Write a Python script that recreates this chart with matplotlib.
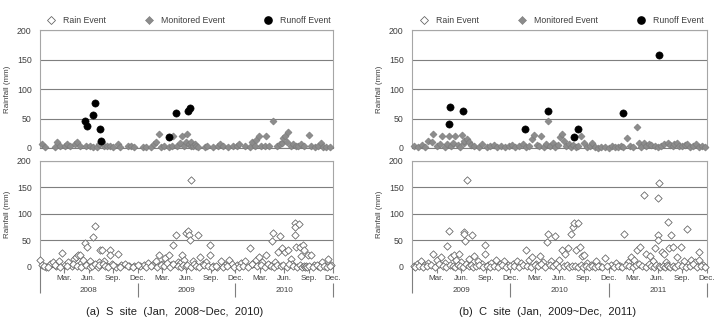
import matplotlib.pyplot as plt
from matplotlib.lines import Line2D

plt.rcParams['font.family'] = ['Liberation Sans', 'DejaVu Sans']

# positions are months since January of the first year, values are rainfall (mm)
month_labels = ['Mar.', 'Jun.', 'Sep.', 'Dec.'] * 3
s_years = ['2008', '2009', '2010']
c_years = ['2009', '2010', '2011']
s_caption = '(a)  S  site  (Jan,  2008~Dec,  2010)'
c_caption = '(b)  C  site  (Jan,  2009~Dec,  2011)'

# ---- S site ----
s_rain_m = [0.0, 0.3, 0.7, 1.2, 1.6, 2.0, 2.3, 2.7, 3.1, 3.5, 3.9, 4.2, 4.4, 4.7, 4.9, 5.1, 5.3, 5.5, 5.8,
            6.0, 6.2, 6.5, 6.8, 7.0, 7.2, 7.4, 7.6, 7.9, 8.2, 8.6, 8.6, 8.9, 9.3, 9.6, 10.0, 10.5, 11.0, 11.6,
            12.3, 12.8, 13.3, 13.8, 14.2, 14.6, 15.0, 15.4, 15.8, 16.1, 16.4, 16.7, 17.0, 17.2, 17.4, 17.7,
            18.0, 18.2, 18.3, 18.4, 18.6, 18.8, 19.1, 19.4, 19.7, 20.0, 20.4, 20.9, 20.9, 21.3, 21.8, 22.2,
            22.7, 23.2, 23.6,
            24.2, 24.7, 25.2, 25.8, 26.1, 26.5, 26.9, 27.3, 27.8, 28.2, 28.5, 28.6, 28.9, 29.3, 29.5, 29.7,
            30.1, 30.5, 30.8, 31.0, 31.3, 31.3, 31.3, 31.5, 31.8, 31.9, 32.1, 32.3, 32.5, 32.9, 33.3, 33.7,
            34.1, 34.6, 35.0, 35.4, 35.8,
            0.5, 1.0, 1.8, 2.5, 3.3, 4.0, 4.6, 5.0, 5.6, 6.1, 6.4, 6.7, 7.1, 7.3, 7.7, 8.0, 8.4, 9.0, 9.8,
            10.8, 11.4, 12.0,
            13.0, 13.6, 14.4, 14.9, 15.3, 15.6, 16.0, 16.3, 16.9, 17.3, 17.6, 17.9, 18.1, 18.5, 18.9, 19.2,
            19.6, 20.2, 20.6, 21.1, 21.6, 22.5, 23.0, 23.9,
            24.5, 25.0, 25.5, 26.0, 26.7, 27.1, 27.6, 28.0, 28.4, 28.8, 29.1, 29.6, 29.9, 30.3, 30.6, 31.1,
            31.6, 32.0, 32.2, 32.4, 32.6, 32.7, 32.8, 33.0, 33.5, 34.0, 34.4, 34.9, 35.3, 35.6]
s_rain_v = [13, 3, 0, 5, 9, 2, 12, 27, 4, 10, 1, 15, 19, 22, 23, 8, 14, 46, 38,
            5, 11, 57, 78, 3, 9, 33, 33, 12, 2, 32, 22, 6, 0, 24, 3, 5, 1, 2,
            1, 4, 8, 3, 11, 23, 6, 17, 22, 3, 41, 60, 10, 7, 23, 13,
            65, 67, 60, 50, 165, 12, 4, 61, 18, 5, 9, 42, 23, 2, 0, 11,
            4, 13, 6,
            3, 8, 12, 35, 6, 14, 18, 9, 22, 4, 49, 64, 10, 28, 58, 35,
            28, 32, 15, 6, 83, 76, 61, 38, 82, 38, 20, 41, 32, 22, 22, 4,
            2, 9, 1, 16, 3,
            1, 0, 3, 0, 1, 6, 2, 0, 4, 0, 2, 5, 0, 3, 6, 1, 0, 4, 0,
            2, 0, 4,
            0, 2, 0, 3, 1, 8, 0, 5, 2, 0, 4, 1, 3, 0, 6, 2,
            0, 3, 1, 0, 2, 0, 1, 0,
            0, 2, 0, 5, 1, 3, 0, 6, 2, 0, 4, 1, 3, 0, 5, 2,
            0, 3, 0, 1, 0, 2, 0, 1, 0, 3, 0, 1, 0, 2]

s_mon_m = [0.2, 0.6, 1.8, 2.1, 2.5, 3.1, 3.3, 3.7, 4.3, 4.6, 4.9, 5.6, 6.1, 6.5, 7.0, 7.2, 7.6, 7.9,
           8.2, 8.6, 9.0, 9.6, 9.8, 10.8, 11.2, 11.5, 12.7, 13.0, 13.7, 14.0, 14.3, 14.6, 14.9, 15.3,
           15.8, 16.2, 16.4, 16.8, 17.2, 17.4, 17.7, 17.9, 18.1, 18.3, 18.5, 18.6, 18.8, 19.0, 19.2,
           19.4, 20.3, 20.5, 21.3, 21.9, 22.1, 22.5, 23.1, 23.7, 24.2, 24.5, 25.2, 25.8, 26.0, 26.4,
           26.6, 26.9, 27.2, 27.6, 27.8, 28.2, 28.6, 29.1, 29.5, 29.7, 29.9, 30.1, 30.3, 30.5, 30.8,
           31.1, 31.4, 31.7, 32.1, 32.4, 33.1, 33.3, 33.8, 34.2, 34.5, 34.8, 35.2, 35.6]
s_mon_v = [6, 2, 2, 10, 3, 3, 7, 3, 6, 10, 3, 3, 3, 2, 2, 6, 10, 3,
           3, 4, 2, 7, 2, 3, 4, 2, 2, 2, 2, 6, 11, 24, 2, 3,
           2, 4, 20, 3, 8, 21, 4, 10, 24, 6, 3, 11, 3, 7, 4,
           2, 2, 4, 2, 4, 6, 3, 2, 3, 4, 6, 3, 2, 11, 4,
           14, 20, 3, 3, 21, 3, 46, 3, 6, 8, 17, 20, 11, 27, 3,
           6, 3, 4, 7, 3, 22, 3, 2, 4, 8, 2, 2, 2]

s_run_m = [5.5, 5.8, 6.5, 6.8, 7.4, 7.5, 15.8, 16.7, 18.2, 18.4]
s_run_v = [46, 38, 56, 77, 32, 12, 19, 60, 62, 67]

# ---- C site ----
c_rain_m = [0.2, 0.6, 1.1, 1.5, 2.0, 2.6, 3.0, 3.6, 4.0, 4.3, 4.5, 4.8, 5.1, 5.4, 5.7, 6.0, 6.3, 6.3,
            6.5, 6.7, 7.0, 7.3, 7.6, 8.0, 8.5, 8.9, 8.9, 9.3, 9.7, 10.2, 10.7, 11.2, 11.7,
            12.3, 12.8, 13.3, 13.9, 14.3, 14.7, 15.1, 15.6, 16.0, 16.5, 16.6, 17.0, 17.5, 17.9, 18.3,
            18.7, 19.0, 19.4, 19.6, 19.8, 20.0, 20.2, 20.5, 20.7, 21.0, 21.4, 21.9, 22.5, 23.0, 23.5,
            24.3, 24.9, 25.4, 25.9, 26.3, 26.7, 27.1, 27.5, 27.8, 28.3, 28.6, 29.0, 29.4, 29.7, 30.0,
            30.0, 30.0, 30.2, 30.5, 30.8, 31.0, 31.2, 31.4, 31.6, 31.9, 32.3, 32.8, 33.2, 33.6, 34.0,
            34.5, 35.0, 35.0, 35.5,
            0.4, 0.9, 1.3, 1.8, 2.3, 2.8, 3.3, 3.8, 4.2, 4.6, 5.0, 5.3, 5.6, 5.9, 6.2, 6.6, 6.9, 7.2,
            7.5, 7.8, 8.2, 8.7, 9.1, 9.5, 10.0, 10.5, 11.0, 11.5, 12.0,
            12.5, 13.0, 13.6, 14.0, 14.5, 15.0, 15.4, 15.8, 16.2, 16.8, 17.2, 17.6, 18.0, 18.5, 18.9,
            19.2, 19.5, 19.9, 20.3, 20.6, 20.9, 21.2, 21.6, 22.0, 22.3, 22.7, 23.2, 23.8,
            24.6, 25.1, 25.6, 26.1, 26.5, 27.0, 27.3, 27.7, 28.1, 28.5, 28.9, 29.2, 29.5, 29.8, 30.1,
            30.3, 30.6, 30.9, 31.1, 31.3, 31.5, 31.8, 32.1, 32.5, 33.0, 33.4, 33.9, 34.3, 34.8, 35.3,
            35.8]
c_rain_v = [2, 5, 11, 3, 8, 24, 13, 19, 7, 39, 68, 18, 22, 14, 24, 9, 66, 63,
            49, 165, 15, 60, 20, 11, 5, 42, 24, 3, 8, 14, 6, 12, 3,
            5, 12, 8, 33, 14, 19, 6, 21, 9, 47, 63, 11, 58, 14, 33,
            25, 35, 62, 76, 83, 32, 83, 38, 20, 22, 8, 4, 11, 2, 17,
            3, 7, 2, 62, 9, 19, 14, 32, 37, 136, 24, 20, 12, 35, 131,
            60, 50, 158, 28, 24, 10, 85, 35, 60, 38, 18, 38, 12, 71, 14,
            9, 28, 13, 4,
            0, 2, 0, 1, 3, 0, 5, 2, 0, 3, 1, 0, 4, 2, 0, 6, 1, 3,
            0, 2, 4, 0, 1, 0, 2, 0, 3, 0, 1,
            1, 0, 3, 2, 0, 4, 1, 6, 0, 3, 1, 5, 0, 2, 4,
            0, 2, 1, 0, 3, 0, 1, 0, 2, 0, 1, 0, 2,
            0, 2, 0, 4, 1, 0, 3, 6, 1, 0, 5, 2, 0, 3, 1,
            0, 2, 0, 4, 1, 0, 2, 0, 3, 1, 0, 2, 5, 0, 1,
            0]

c_mon_m = [0.3, 0.7, 1.2, 1.6, 2.0, 2.4, 2.6, 3.0, 3.4, 3.7, 4.0, 4.3, 4.5, 4.8, 5.0, 5.3, 5.6, 5.9,
           6.1, 6.3, 6.4, 6.7, 6.9, 7.2, 7.6, 8.2, 8.6, 9.1, 9.5, 10.0, 10.4, 10.9, 11.3, 11.8, 12.2,
           12.6, 13.1, 13.5, 13.9, 14.3, 14.6, 14.9, 15.2, 15.5, 15.8, 16.1, 16.4, 16.6, 16.9, 17.2,
           17.5, 17.8, 18.1, 18.3, 18.5, 18.8, 19.1, 19.4, 19.7, 20.0, 20.3, 20.6, 21.0, 21.3, 21.7,
           22.0, 22.3, 22.7, 23.1, 23.5, 24.0, 24.4, 24.8, 25.2, 25.5, 25.8, 26.2, 26.6, 27.0, 27.4,
           27.7, 27.9, 28.3, 28.6, 28.9, 29.2, 29.6, 30.0, 30.4, 30.8, 31.2, 31.5, 31.8, 32.0, 32.3,
           32.6, 33.0, 33.3, 33.6, 33.9, 34.3, 34.6, 35.0, 35.4, 35.8]
c_mon_v = [3, 1, 5, 2, 12, 10, 24, 4, 7, 20, 2, 6, 20, 3, 8, 21, 5, 2,
           22, 9, 12, 16, 10, 5, 3, 2, 6, 1, 3, 5, 2, 4, 1, 3, 5,
           2, 3, 6, 2, 4, 16, 22, 5, 3, 21, 2, 6, 46, 3, 8,
           2, 5, 18, 24, 12, 3, 7, 2, 5, 1, 3, 21, 8, 2, 3,
           8, 2, 0, 1, 2, 0, 3, 1, 2, 4, 2, 17, 3, 1, 36,
           8, 2, 8, 3, 7, 5, 3, 2, 4, 6, 8, 5, 3, 7, 8,
           4, 3, 5, 6, 2, 3, 7, 2, 4, 1]

c_run_m = [4.5, 4.6, 6.2, 13.8, 16.6, 19.8, 20.2, 25.8, 30.2]
c_run_v = [40, 69, 62, 33, 63, 18, 32, 60, 157]


def draw_site(left, width, rain, mon, run, years, caption):
    grid_c = '#7f7f7f'
    box_c = '#a6a6a6'
    txt_c = '#404040'

    top = fig.add_axes([left, 0.5418, width, 0.3653])
    bot = fig.add_axes([left, 0.1734, width, 0.3282])

    for ax in (top, bot):
        ax.set_xlim(0, 36)
        ax.set_ylim(0, 200)
        ax.set_yticks([0, 50, 100, 150, 200])
        ax.yaxis.grid(True, color=grid_c, lw=0.8)
        ax.set_axisbelow(True)
        ax.tick_params(axis='y', length=0, pad=6, labelsize=6.3, labelcolor=txt_c)
        for sp in ('left', 'right', 'top'):
            ax.spines[sp].set_color(box_c)
            ax.spines[sp].set_linewidth(0.8)
        ax.spines['bottom'].set_color(grid_c)
        ax.spines['bottom'].set_linewidth(0.8)
        ax.set_ylabel('Rainfall (mm)', fontsize=5.8, color=txt_c, labelpad=4)

    top.set_xticks([])

    # top: monitored and runoff events
    top.scatter(mon[0], mon[1], marker='D', s=13, facecolor='#8c8c8c', edgecolor='#787878',
                linewidths=0.4, clip_on=False, zorder=3)
    top.scatter(run[0], run[1], marker='o', s=27, facecolor='black', edgecolor='black',
                linewidths=0.4, clip_on=False, zorder=4)

    # bottom: all rain events
    bot.scatter(rain[0], rain[1], marker='D', s=14, facecolor='white', edgecolor='#5e5e5e',
                linewidths=0.55, clip_on=False, zorder=3)

    # month axis
    bot.set_xticks(range(3, 37, 3))
    bot.set_xticklabels(month_labels)
    bot.set_xticks([0], minor=True)
    bot.tick_params(axis='x', which='major', length=4, width=0.8, color=grid_c,
                    labelsize=5.8, labelcolor=txt_c, pad=2)
    bot.tick_params(axis='x', which='minor', length=19, width=0.8, color=grid_c)

    # year axis below the months
    sec = bot.secondary_xaxis(-0.15)
    sec.spines['bottom'].set_visible(False)
    sec.set_xticks([12, 24, 36])
    sec.set_xticklabels([])
    sec.set_xticks([6, 18, 30], minor=True)
    sec.set_xticklabels(years, minor=True)
    sec.tick_params(axis='x', which='major', length=10, width=0.8, color=grid_c)
    sec.tick_params(axis='x', which='minor', length=0, pad=3, labelsize=5.8, labelcolor=txt_c)

    handles = [
        Line2D([], [], ls='none', marker='D', ms=3.6, mfc='white', mec='#5e5e5e', mew=0.55),
        Line2D([], [], ls='none', marker='D', ms=3.6, mfc='#8c8c8c', mec='#787878', mew=0.4),
        Line2D([], [], ls='none', marker='o', ms=5.2, mfc='black', mec='black'),
    ]
    top.legend(handles, ['Rain Event', 'Monitored Event', 'Runoff Event'], loc='lower center',
               bbox_to_anchor=(0.5, 0.995), ncol=3, frameon=False, fontsize=6.3, handletextpad=0.3,
               columnspacing=4.0, borderpad=0.1, labelcolor=txt_c)

    fig.text(left + width / 2 - 0.016, 0.034, caption, ha='center', va='center',
             fontsize=8, color='#202020')


fig = plt.figure(figsize=(7.15, 3.23), dpi=100)
draw_site(0.0559, 0.4098, (s_rain_m, s_rain_v), (s_mon_m, s_mon_v), (s_run_m, s_run_v),
          s_years, s_caption)
draw_site(0.5762, 0.4126, (c_rain_m, c_rain_v), (c_mon_m, c_mon_v), (c_run_m, c_run_v),
          c_years, c_caption)
fig.savefig('out.png', dpi=100, facecolor='white')
